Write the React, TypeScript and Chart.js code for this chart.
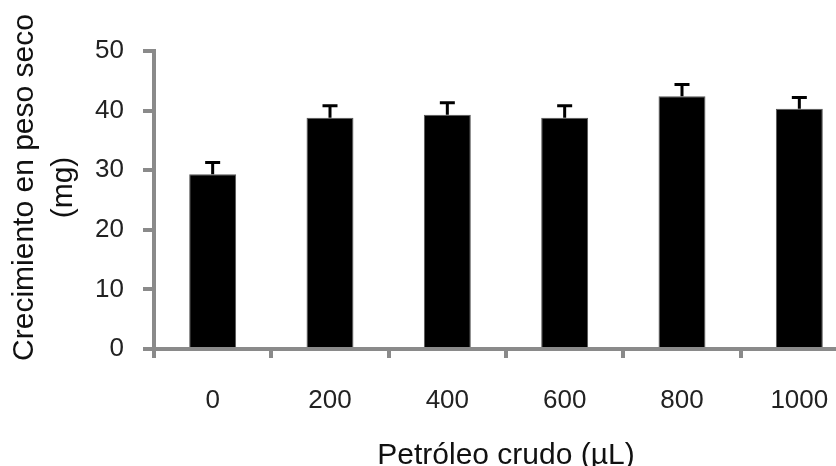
import React, { useEffect, useRef } from "react";
import Chart from "chart.js/auto";

const categories = ["0", "200", "400", "600", "800", "1000"];
const growth = [29.3, 38.8, 39.3, 38.8, 42.4, 40.3];
const errors = [2.0, 2.0, 2.0, 2.0, 2.0, 1.9];
const yTitle = ["   Crecimiento en peso seco", "   (mg)"];
const xTitle = "Petróleo crudo (µL)";

const AXIS = "#8a8a8a";
const FONT = "'Liberation Sans', Arial, sans-serif";

// draws the upper error bar with a cap on top of each bar
const errorBars = {
  id: "errorBars",
  afterDatasetsDraw(chart: any) {
    const { ctx } = chart;
    const meta = chart.getDatasetMeta(0);
    const yScale = chart.scales.y;
    ctx.save();
    ctx.strokeStyle = "#000";
    ctx.lineWidth = 3;
    meta.data.forEach((bar: any, i: number) => {
      const top = yScale.getPixelForValue(growth[i] + errors[i]);
      const x = bar.x;
      ctx.beginPath();
      ctx.moveTo(x, bar.y);
      ctx.lineTo(x, top);
      ctx.moveTo(x - 7.5, top);
      ctx.lineTo(x + 7.5, top);
      ctx.stroke();
    });
    ctx.restore();
  },
};

export default function App() {
  const chartRef = useRef(null) as any;
  const chartInstance = useRef(null) as any;

  useEffect(() => {
    if (chartInstance.current) {
      chartInstance.current.destroy();
    }
    const myChartRef = chartRef.current?.getContext("2d");

    chartInstance.current = new Chart(myChartRef, {
      type: "bar",
      data: {
        labels: categories,
        datasets: [
          {
            label: "Crecimiento",
            data: growth,
            backgroundColor: "#000",
            borderColor: "#555",
            borderWidth: 1,
            categoryPercentage: 1,
            barPercentage: 0.4,
          },
        ],
      },
      options: {
        animation: false,
        responsive: true,
        maintainAspectRatio: false,
        layout: { padding: { top: 51, right: 12, left: 0, bottom: 0 } },
        plugins: {
          legend: { display: false },
          tooltip: { enabled: false },
        },
        scales: {
          x: {
            afterFit: (scale: any) => {
              scale.height = 117;
            },
            grid: {
              offset: true,
              drawOnChartArea: false,
              drawTicks: true,
              tickLength: 9,
              color: AXIS,
              lineWidth: 4,
            },
            border: { color: AXIS, width: 4 },
            ticks: {
              color: "#222",
              padding: 27,
              font: { family: FONT, size: 26 },
            },
            title: {
              display: true,
              text: xTitle,
              color: "#111",
              padding: 0,
              font: { family: FONT, size: 30, lineHeight: 0.7 },
            },
          },
          y: {
            min: 0,
            max: 50,
            afterFit: (scale: any) => {
              scale.width = 154;
            },
            grid: {
              drawOnChartArea: false,
              drawTicks: true,
              tickLength: 11,
              color: AXIS,
              lineWidth: 4,
            },
            border: { color: AXIS, width: 4 },
            ticks: {
              stepSize: 10,
              color: "#222",
              padding: 19,
              font: { family: FONT, size: 26 },
            },
            title: {
              display: true,
              text: yTitle,
              color: "#111",
              padding: { top: 5, bottom: 0 },
              font: { family: FONT, size: 30, lineHeight: 1.3 },
            },
          },
        },
      },
      plugins: [errorBars],
    });
    return () => {
      if (chartInstance.current) {
        chartInstance.current.destroy();
      }
    };
  }, []);

  return (
    <div
      style={{
        position: "fixed",
        left: 0,
        top: 0,
        width: 836,
        height: 466,
        overflow: "hidden",
        background: "#fff",
      }}
    >
      <div style={{ width: 870, height: 466, position: "relative" }}>
        <canvas ref={chartRef}></canvas>
      </div>
    </div>
  );
}
